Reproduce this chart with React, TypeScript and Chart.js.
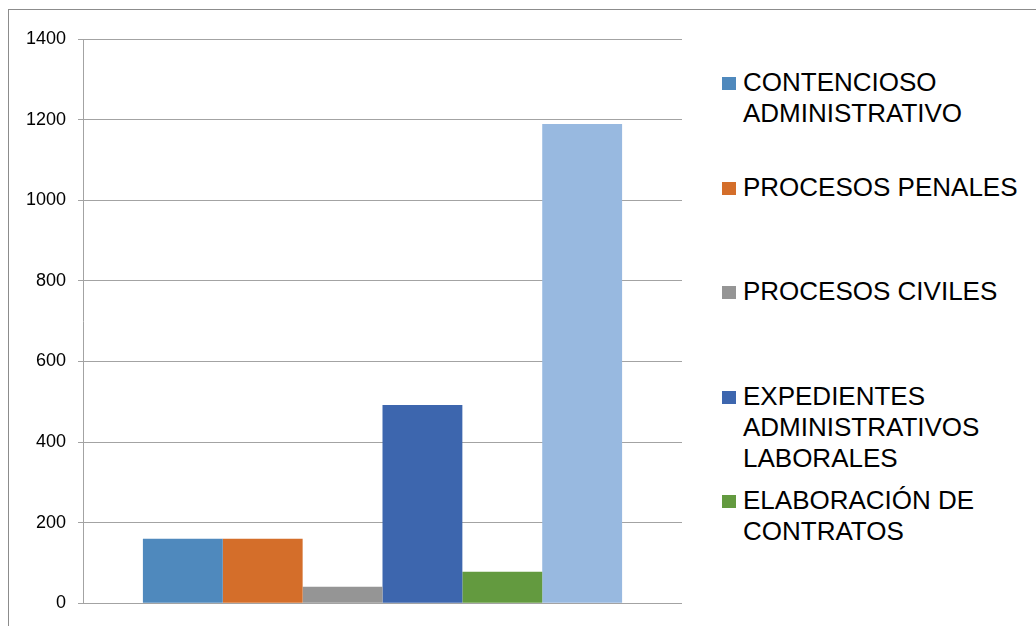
import React, { useEffect, useRef } from "react";
import { Chart, registerables } from "chart.js";

Chart.register(...registerables);

const categories = [""];
const seriesNames = [
  "CONTENCIOSO ADMINISTRATIVO",
  "PROCESOS PENALES",
  "PROCESOS CIVILES",
  "EXPEDIENTES ADMINISTRATIVOS LABORALES",
  "ELABORACIÓN DE CONTRATOS",
  "OTROS",
];
const seriesValues = [160, 160, 41, 492, 78, 1189];
const seriesColors = ["#4F89BD", "#D46E2A", "#959595", "#3D66AE", "#639A3F", "#98B9E0"];
const legendVisibleCount = 5;
const yMin = 0;
const yMax = 1400;
const yStep = 200;

const FONT = '"Liberation Sans", Arial, sans-serif';

export default function App() {
  const canvasRef = useRef<HTMLCanvasElement | null>(null);

  useEffect(() => {
    const canvas = canvasRef.current;
    if (!canvas) return;
    const chart = new Chart(canvas, {
      type: "bar",
      data: {
        labels: categories,
        datasets: seriesNames.map((name, i) => ({
          label: name,
          data: [seriesValues[i]],
          backgroundColor: seriesColors[i],
          borderWidth: 0,
          categoryPercentage: 0.8,
          barPercentage: 1,
        })),
      },
      options: {
        animation: false,
        responsive: false,
        devicePixelRatio: 1,
        layout: { padding: { left: 0, top: 39, right: 18, bottom: 22 } },
        plugins: {
          legend: { display: false },
          tooltip: { enabled: false },
        },
        scales: {
          x: {
            display: false,
          },
          y: {
            min: yMin,
            max: yMax,
            ticks: {
              stepSize: yStep,
              padding: 12,
              color: "#000",
              font: { family: FONT, size: 18 },
              callback: (v: any) => String(v),
            },
            grid: {
              color: "#a3a3a3",
              lineWidth: 1,
              tickLength: 5,
              drawTicks: true,
            },
            border: { display: true, color: "#a3a3a3", width: 1 },
            afterFit: (scale: any) => {
              scale.width = 83;
            },
          },
        },
      },
    });
    return () => chart.destroy();
  }, []);

  return (
    <div
      style={{
        position: "fixed",
        left: 0,
        top: 0,
        width: 1036,
        height: 626,
        overflow: "hidden",
        background: "#fff",
        fontFamily: FONT,
      }}
    >
      <div
        style={{
          position: "absolute",
          left: 8,
          top: 9,
          width: 1100,
          height: 700,
          border: "1px solid #8c8c8c",
          boxSizing: "border-box",
        }}
      />
      <canvas
        ref={canvasRef}
        width={700}
        height={626}
        style={{ position: "absolute", left: 0, top: 0, width: 700, height: 626 }}
      />
      {seriesNames.slice(0, legendVisibleCount).map((name, i) => (
        <div
          key={name}
          style={{
            position: "absolute",
            left: 722,
            top: 67 + i * 104.5,
            width: 310,
          }}
        >
          <div
            style={{
              position: "absolute",
              left: 0,
              top: 10,
              width: 14,
              height: 13,
              background: seriesColors[i],
            }}
          />
          <div
            style={{
              position: "absolute",
              left: 21,
              top: 0,
              width: 289,
              fontSize: 26,
              lineHeight: "31px",
              color: "#000",
              whiteSpace: "normal",
            }}
          >
            {name}
          </div>
        </div>
      ))}
    </div>
  );
}
